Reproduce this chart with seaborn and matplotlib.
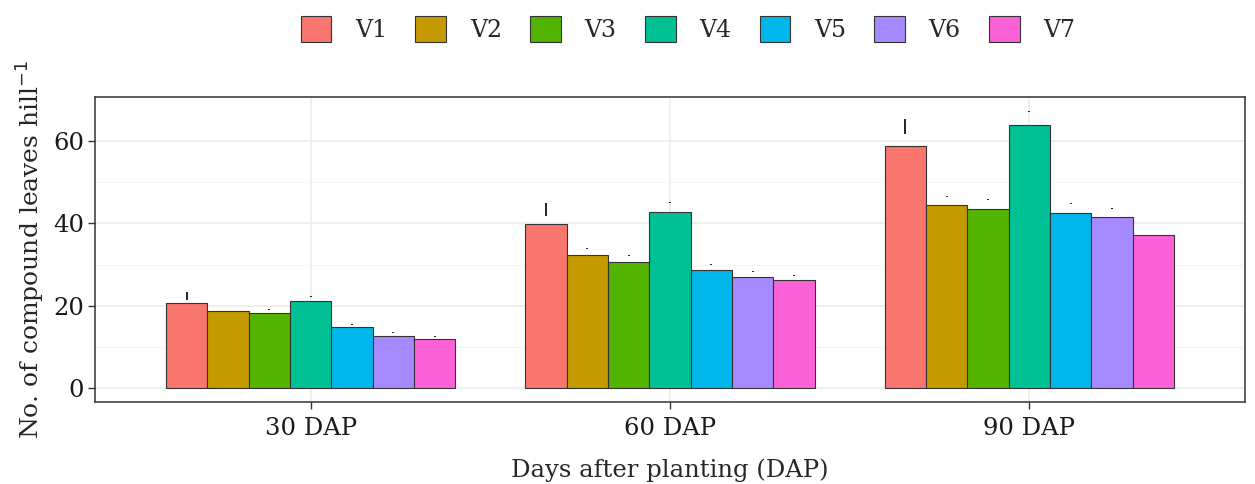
import matplotlib
matplotlib.use("Agg")
import matplotlib.pyplot as plt
import numpy as np
import pandas as pd
import seaborn as sns

days = ["30 DAP", "60 DAP", "90 DAP"]
varieties = ["V1", "V2", "V3", "V4", "V5", "V6", "V7"]
colors = ["#F8766D", "#C49A00", "#53B400", "#00C094", "#00B6EB", "#A58AFF", "#FB61D7"]

# mean number of compound leaves, rows = variety, cols = day
means = {
    "V1": [20.6, 39.9, 58.7],
    "V2": [18.8, 32.2, 44.4],
    "V3": [18.3, 30.7, 43.6],
    "V4": [21.2, 42.8, 64.0],
    "V5": [14.7, 28.6, 42.6],
    "V6": [12.7, 27.0, 41.6],
    "V7": [12.0, 26.2, 37.2],
}
# error bar ends (floating above the bars as in the original)
err_lo = {
    "V1": [21.5, 41.9, 61.6],
    "V2": [19.6, 33.7, 46.5],
    "V3": [19.0, 32.0, 45.6],
    "V4": [22.2, 44.9, 67.0],
    "V5": [15.4, 29.9, 44.7],
    "V6": [13.3, 28.2, 43.6],
    "V7": [12.5, 27.3, 39.0],
}
err_hi = {
    "V1": [23.4, 44.9, 65.3],
    "V2": [19.8, 33.9, 46.7],
    "V3": [19.2, 32.2, 45.8],
    "V4": [22.4, 45.1, 67.2],
    "V5": [15.6, 30.1, 44.9],
    "V6": [13.5, 28.4, 43.8],
    "V7": [12.7, 27.5, 39.2],
}

rows = []
for v in varieties:
    for i, d in enumerate(days):
        rows.append({"day": d, "variety": v, "leaves": means[v][i]})
df = pd.DataFrame(rows)

sns.set_theme(style="whitegrid")
plt.rcParams["font.family"] = ["DejaVu Serif"]

fig = plt.figure(figsize=(12.55, 4.84), dpi=100)
ax = fig.add_axes([95 / 1255, 1 - 402 / 484, 1150 / 1255, 305 / 484])

sns.barplot(data=df, x="day", y="leaves", hue="variety", order=days, hue_order=varieties,
            palette=colors, width=0.805, edgecolor="#333333", linewidth=0.8, saturation=1,
            errorbar=None, ax=ax, legend=True)

for v, cont in zip(varieties, ax.containers):
    xs = [p.get_x() + p.get_width() / 2 for p in cont.patches]
    ax.vlines(xs, err_lo[v], err_hi[v], color="black", lw=1.2, zorder=5)

ax.set_xlim(-0.6, 2.6)
ax.set_ylim(-3.4, 70.7)
ax.set_yticks([0, 20, 40, 60])
ax.set_yticks([10, 30, 50], minor=True)
ax.set_axisbelow(True)
ax.grid(True, which="major", color="#EBEBEB", lw=1.1)
ax.grid(True, which="minor", axis="y", color="#F2F2F2", lw=0.6)
for s in ax.spines.values():
    s.set_color("#333333")
    s.set_linewidth(1.1)
ax.tick_params(axis="both", which="major", length=5, width=1, color="#333333",
               labelsize=17.5, labelcolor="#1a1a1a", pad=3, bottom=True, left=True)
ax.tick_params(axis="x", pad=6)
ax.tick_params(which="minor", length=0)
ax.set_xlabel("Days after planting (DAP)", fontsize=17.5, labelpad=13)
ax.set_ylabel("No. of compound leaves hill$^{-1}$", fontsize=18, labelpad=4)

handles, labels = ax.get_legend_handles_labels()
ax.legend_.remove()
fig.legend(handles, labels, loc="center", bbox_to_anchor=(688 / 1255, 1 - 29 / 484), ncol=7,
           frameon=False, fontsize=17, handlelength=1.3, handleheight=1.3,
           columnspacing=1.2, handletextpad=1.0)

fig.savefig("out.png", dpi=100)
